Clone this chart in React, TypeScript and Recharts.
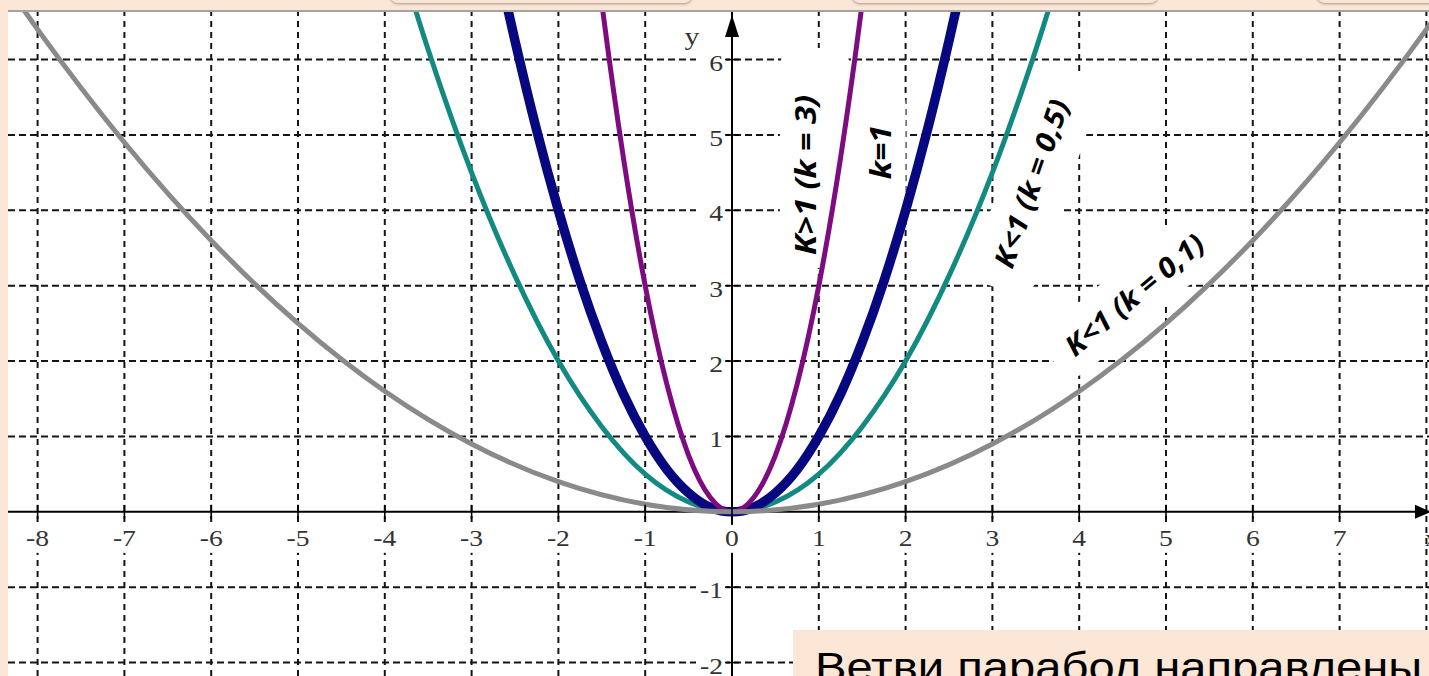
import React from 'react'
import { LineChart, Line, XAxis, YAxis, ReferenceLine, ReferenceDot } from 'recharts'

// visible window of the plane
const X_DOMAIN = [-8.341, 8.03]
const Y_DOMAIN = [-2.178, 6.631]

const xTicks = [-8, -7, -6, -5, -4, -3, -2, -1, 1, 2, 3, 4, 5, 6, 7]
const yTicks = [-2, -1, 1, 2, 3, 4, 5, 6]
const gridX = [-8, -7, -6, -5, -4, -3, -2, -1, 1, 2, 3, 4, 5, 6, 7, 8]
const gridY = [-2, -1, 1, 2, 3, 4, 5, 6]

// y = 3x²
const k3X = [-1.75, -1.5, -1.25, -1, -0.75, -0.5, -0.25, 0, 0.25, 0.5, 0.75, 1, 1.25, 1.5, 1.75]
const k3Y = [9.19, 6.75, 4.69, 3, 1.69, 0.75, 0.19, 0, 0.19, 0.75, 1.69, 3, 4.69, 6.75, 9.19]
// y = x²
const k1X = [-3, -2.75, -2.5, -2.25, -2, -1.75, -1.5, -1.25, -1, -0.75, -0.5, -0.25, 0, 0.25, 0.5, 0.75, 1, 1.25, 1.5, 1.75, 2, 2.25, 2.5, 2.75, 3]
const k1Y = [9, 7.56, 6.25, 5.06, 4, 3.06, 2.25, 1.56, 1, 0.56, 0.25, 0.06, 0, 0.06, 0.25, 0.56, 1, 1.56, 2.25, 3.06, 4, 5.06, 6.25, 7.56, 9]
// y = 0,5x²
const k05X = [-4, -3.5, -3, -2.5, -2, -1.5, -1, -0.5, 0, 0.5, 1, 1.5, 2, 2.5, 3, 3.5, 4]
const k05Y = [8, 6.13, 4.5, 3.13, 2, 1.13, 0.5, 0.13, 0, 0.13, 0.5, 1.13, 2, 3.13, 4.5, 6.13, 8]
// y = 0,1x²
const k01X = [-9, -8, -7, -6, -5, -4, -3, -2, -1, 0, 1, 2, 3, 4, 5, 6, 7, 8, 9]
const k01Y = [8.1, 6.4, 4.9, 3.6, 2.5, 1.6, 0.9, 0.4, 0.1, 0, 0.1, 0.4, 0.9, 1.6, 2.5, 3.6, 4.9, 6.4, 8.1]

const curveLabels = ['K>1 (k = 3)', 'k=1', 'K<1 (k = 0,5)', 'K<1 (k = 0,1)']
const labelX = [0.84, 1.7, 3.44, 4.63]
const labelY = [4.47, 4.77, 4.36, 2.89]

const caption = 'Ветви парабол направлены'

const zip = (xs: number[], ys: number[]) => xs.map((x, i) => ({ x, y: ys[i] }))

const series = [
  { name: 'k05', data: zip(k05X, k05Y), color: '#128a82', width: 5 },
  { name: 'k1', data: zip(k1X, k1Y), color: '#07077f', width: 9.5 },
  { name: 'k3', data: zip(k3X, k3Y), color: '#7e0c80', width: 5 },
  { name: 'k01', data: zip(k01X, k01Y), color: '#8a8a8a', width: 5 },
]

// rotation / length of each label, and the white patch behind it
const labelStyle = [
  { angle: -90, len: 160, boxW: 220, boxH: 70, dx: 17, dy: 10 },
  { angle: -90, len: 54, boxW: 150, boxH: 60, dx: -8, dy: -4 },
  { angle: -71, len: 176, boxW: 230, boxH: 66, dx: 5, dy: 4 },
  { angle: -40, len: 172, boxW: 210, boxH: 58, dx: 0, dy: 0 },
]

const SERIF = '"Liberation Serif", "DejaVu Serif", serif'
const STRETCH = 1.15

const XTick = ({ cx, cy, value }: any) => (
  <g>
    <rect x={cx - 17} y={cy + 13} width={34} height={28} fill="#fff" />
    <line x1={cx} y1={cy - 7} x2={cx} y2={cy + 7} stroke="#000" strokeWidth={1.6} />
    <text
      transform={`translate(${cx} ${cy + 34}) scale(${STRETCH} 1)`}
      textAnchor="middle"
      fontFamily={SERIF}
      fontSize={24}
      fill="#333"
    >
      {value}
    </text>
  </g>
)

const YTick = ({ cx, cy, value }: any) => (
  <g>
    <rect x={cx - 36} y={cy - 11} width={30} height={26} fill="#fff" />
    <line x1={cx - 7} y1={cy} x2={cx + 7} y2={cy} stroke="#000" strokeWidth={1.6} />
    <text
      transform={`translate(${cx - 9} ${cy + 11}) scale(${STRETCH} 1)`}
      textAnchor="end"
      fontFamily={SERIF}
      fontSize={24}
      fill="#333"
    >
      {value}
    </text>
  </g>
)

// white patch behind a label, drawn as a zero-length reference segment
const LabelBox = ({ x1, y1, idx }: any) => {
  const s = labelStyle[idx]
  return (
    <g transform={`translate(${x1} ${y1}) rotate(${s.angle})`}>
      <rect
        x={s.dx - s.boxW / 2}
        y={s.dy - s.boxH / 2}
        width={s.boxW}
        height={s.boxH}
        rx={18}
        fill="#fff"
      />
    </g>
  )
}

const LabelText = ({ cx, cy, idx }: any) => {
  const s = labelStyle[idx]
  return (
    <g transform={`translate(${cx} ${cy}) rotate(${s.angle})`}>
      <text
        x={0}
        y={0}
        textAnchor="middle"
        dominantBaseline="central"
        fontFamily='"Open Sans", "Liberation Sans", sans-serif'
        fontWeight="bold"
        fontStyle="italic"
        fontSize={28}
        textLength={s.len}
        lengthAdjust="spacingAndGlyphs"
        fill="#000"
      >
        {curveLabels[idx]}
      </text>
    </g>
  )
}

const YArrow = ({ cx, cy }: any) => (
  <g>
    <polygon points={`${cx},${cy + 3} ${cx - 7},${cy + 25} ${cx + 7},${cy + 25}`} fill="#000" />
    <text
      transform={`translate(${cx - 40} ${cy + 33}) scale(${STRETCH} 1)`}
      textAnchor="middle"
      fontFamily={SERIF}
      fontSize={26}
      fill="#333"
    >
      y
    </text>
  </g>
)

const XArrow = ({ cx, cy }: any) => (
  <g>
    <polygon points={`${cx + 2},${cy} ${cx - 14},${cy - 7} ${cx - 14},${cy + 7}`} fill="#000" />
    <text x={cx - 4} y={cy + 34} fontFamily={SERIF} fontSize={24} fill="#333">
      x
    </text>
  </g>
)

export default function App() {
  const tabs = [
    [390, 302],
    [852, 306],
    [1317, 130],
  ]
  return (
    <div
      style={{
        position: 'fixed',
        left: 0,
        top: 0,
        width: 1429,
        height: 676,
        overflow: 'hidden',
        background: '#fce7d7',
      }}
    >
      {tabs.map(([l, w]) => (
        <div
          key={l}
          style={{
            position: 'absolute',
            left: l,
            top: -20,
            width: w,
            height: 23,
            borderRadius: 8,
            background: '#fbe6d6',
            boxShadow: '0 1px 3px rgba(0,0,0,0.35)',
          }}
        />
      ))}
      <div
        style={{
          position: 'absolute',
          left: 8,
          top: 10,
          width: 1421,
          height: 666,
          background: '#fff',
          borderTop: '2px solid #a3a3a3',
        }}
      />
      <div style={{ position: 'absolute', left: 8, top: 12 }}>
        <LineChart width={1421} height={664} margin={{ top: 0, right: 0, bottom: 0, left: 0 }}>
          <XAxis type="number" dataKey="x" domain={X_DOMAIN} allowDataOverflow hide />
          <YAxis type="number" dataKey="y" domain={Y_DOMAIN} allowDataOverflow hide />

          {gridX.map((g) => (
            <ReferenceLine
              key={`gx${g}`}
              x={g}
              stroke="#151515"
              strokeWidth={2}
              strokeDasharray="6 5"
            />
          ))}
          {gridY.map((g) => (
            <ReferenceLine
              key={`gy${g}`}
              y={g}
              stroke="#151515"
              strokeWidth={2}
              strokeDasharray="7 4"
            />
          ))}

          {curveLabels.map((_, i) => (
            <ReferenceLine
              key={`lb${i}`}
              segment={[
                { x: labelX[i], y: labelY[i] },
                { x: labelX[i], y: labelY[i] },
              ]}
              ifOverflow="visible"
              shape={(p: any) => <LabelBox {...p} idx={i} />}
            />
          ))}

          <ReferenceLine x={0} stroke="#000" strokeWidth={2} />
          <ReferenceLine y={0} stroke="#000" strokeWidth={2} />

          {series.map((s) => (
            <Line
              key={s.name}
              data={s.data}
              dataKey="y"
              type="monotone"
              stroke={s.color}
              strokeWidth={s.width}
              dot={false}
              activeDot={false}
              isAnimationActive={false}
            />
          ))}

          {xTicks.map((t) => (
            <ReferenceDot
              key={`xt${t}`}
              x={t}
              y={0}
              r={0}
              ifOverflow="visible"
              shape={(p: any) => <XTick {...p} value={t} />}
            />
          ))}
          <ReferenceDot
            x={0}
            y={0}
            r={0}
            ifOverflow="visible"
            shape={(p: any) => <XTick {...p} value={0} />}
          />
          {yTicks.map((t) => (
            <ReferenceDot
              key={`yt${t}`}
              x={0}
              y={t}
              r={0}
              ifOverflow="visible"
              shape={(p: any) => <YTick {...p} value={t} />}
            />
          ))}
          <ReferenceDot
            x={0}
            y={Y_DOMAIN[1]}
            r={0}
            ifOverflow="visible"
            shape={(p: any) => <YArrow {...p} />}
          />
          <ReferenceDot
            x={X_DOMAIN[1]}
            y={0}
            r={0}
            ifOverflow="visible"
            shape={(p: any) => <XArrow {...p} />}
          />

          {curveLabels.map((_, i) => (
            <ReferenceDot
              key={`lt${i}`}
              x={labelX[i]}
              y={labelY[i]}
              r={0}
              ifOverflow="visible"
              shape={(p: any) => <LabelText {...p} idx={i} />}
            />
          ))}
        </LineChart>
      </div>
      <div
        style={{
          position: 'absolute',
          left: 793,
          top: 630,
          width: 636,
          height: 46,
          background: '#fce7d7',
          overflow: 'hidden',
        }}
      >
        <div
          style={{
            position: 'absolute',
            left: 22,
            top: 17,
            whiteSpace: 'nowrap',
            fontFamily: '"Liberation Sans", Arial, sans-serif',
            fontSize: 41,
            lineHeight: '41px',
            color: '#000',
            transform: `scaleX(${STRETCH})`,
            transformOrigin: 'left top',
          }}
        >
          {caption}
        </div>
      </div>
    </div>
  )
}
